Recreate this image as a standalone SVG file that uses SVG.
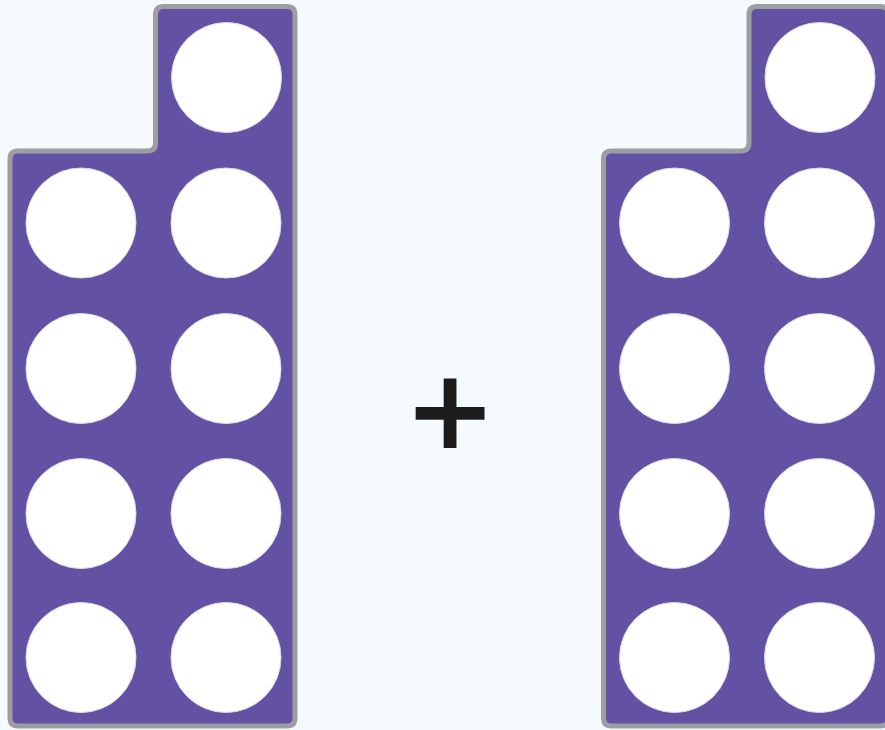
<svg xmlns="http://www.w3.org/2000/svg" width="885" height="730" viewBox="0 0 885 730">
<style>
.frame{fill:#6352a3;stroke:#9c9ea3;stroke-width:5;stroke-linejoin:round}
.dot{fill:#ffffff;stroke:#dcd9e8;stroke-width:1}
.op{font-family:"DejaVu Sans",sans-serif;font-weight:bold;font-size:110px;fill:#1c1c1c}
</style>
<defs>
<g id="nine">
<path class="frame" d="M18,151 H147 Q155.5,151 155.5,143 V14.5 Q155.5,6.5 163.5,6.5 H287 Q295,6.5 295,14.5 V718 Q295,726 287,726 H18 Q10,726 10,718 V159 Q10,151 18,151 Z"/>
<circle class="dot" cx="226.5" cy="77.5" r="55"/>
<circle class="dot" cx="81" cy="223" r="55"/>
<circle class="dot" cx="226" cy="223" r="55"/>
<circle class="dot" cx="81" cy="368.5" r="55"/>
<circle class="dot" cx="226" cy="368.5" r="55"/>
<circle class="dot" cx="81" cy="513.5" r="55"/>
<circle class="dot" cx="226" cy="513.5" r="55"/>
<circle class="dot" cx="81" cy="657.5" r="55"/>
<circle class="dot" cx="226" cy="657.5" r="55"/>
</g>
</defs>
<rect width="885" height="730" fill="#f5fafe"/>
<g id="left-frame"><use href="#nine"/></g>
<g id="right-frame"><use href="#nine" transform="translate(593.5,0)"/></g>
<g id="plus"><text class="op" x="450" y="448" text-anchor="middle">+</text></g>
<g id="connectors"></g>
</svg>
